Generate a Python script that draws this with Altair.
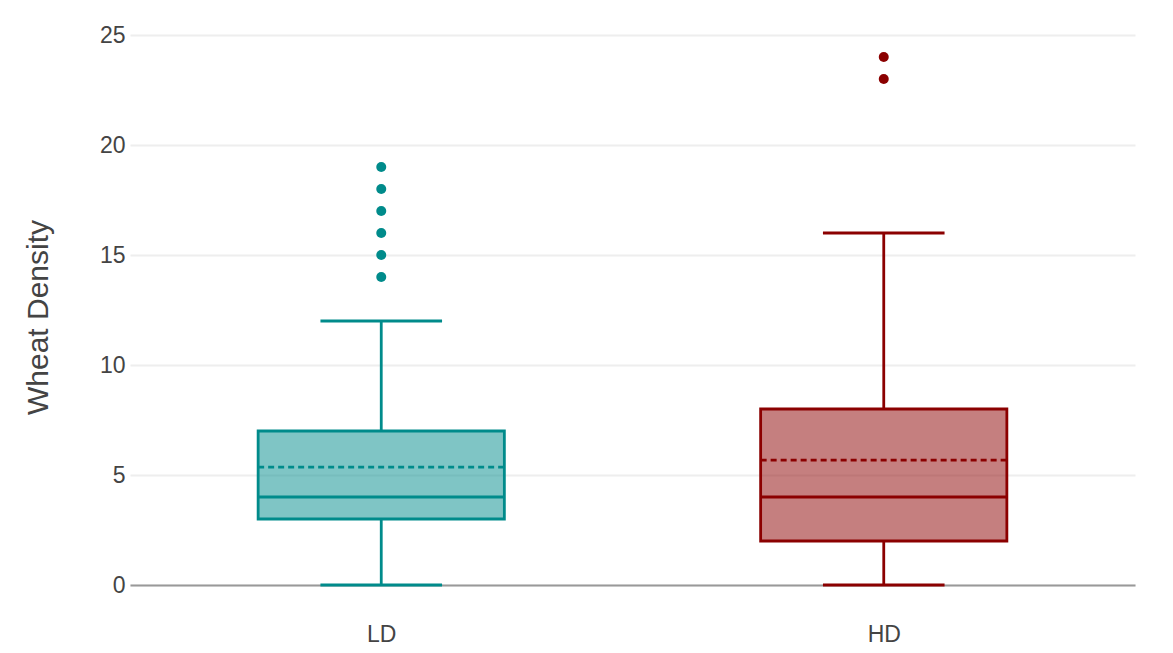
import altair as alt
import pandas as pd

# ---- data ----
categories = ["LD", "HD"]
lower_fence = [0, 0]
q1 = [3, 2]
median = [4, 4]
q3 = [7, 8]
upper_fence = [12, 16]
means = [5.36, 5.68]
outliers_LD = [14, 15, 16, 17, 18, 19]
outliers_HD = [23, 24]
colors = ["#008B8B", "#8B0000"]
y_ticks = [0, 5, 10, 15, 20, 25]

box_df = pd.DataFrame({
    "cat": categories,
    "idx": list(range(len(categories))),
    "lower": lower_fence,
    "q1": q1,
    "median": median,
    "q3": q3,
    "upper": upper_fence,
    "mean": means,
})
out_df = pd.DataFrame({
    "cat": ["LD"] * len(outliers_LD) + ["HD"] * len(outliers_HD),
    "idx": [0] * len(outliers_LD) + [1] * len(outliers_HD),
    "value": outliers_LD + outliers_HD,
})

BOX_HALF = 0.245
CAP_HALF = 0.121
LW = 2.8
FONT = "Liberation Sans"
TXT = "#444444"

color_scale = alt.Scale(domain=categories, range=colors)
x_scale = alt.Scale(domain=[-0.5, len(categories) - 0.5], nice=False, zero=False)
y_scale = alt.Scale(domain=[0, 25], nice=False, zero=False)

x_axis = alt.Axis(
    values=list(range(len(categories))),
    labelExpr=f"{categories}[datum.value]",
    title=None, grid=False, ticks=False,
    domain=True, domainColor="#999999", domainWidth=2,
    labelFont=FONT, labelFontSize=23, labelColor=TXT,
    labelBaseline="top", labelPadding=38,
)
y_axis = alt.Axis(
    values=y_ticks, title="Wheat Density",
    grid=True, gridColor="#eeeeee", gridWidth=2,
    ticks=False, domain=False,
    labelFont=FONT, labelFontSize=23, labelColor=TXT, labelPadding=5,
    titleFont=FONT, titleFontSize=30, titleColor=TXT, titleFontWeight="normal",
    titleAngle=270, titleAlign="center", titleBaseline="middle",
    titleX=-92, titleY=282,
)

def xq(field):
    return alt.X(f"{field}:Q", scale=x_scale, axis=x_axis)

def yq(field):
    return alt.Y(f"{field}:Q", scale=y_scale, axis=y_axis)

stroke_enc = alt.Stroke("cat:N", scale=color_scale, legend=None)
color_enc = alt.Color("cat:N", scale=color_scale, legend=None)

base = alt.Chart(box_df).transform_calculate(
    box_l=f"datum.idx - {BOX_HALF}",
    box_r=f"datum.idx + {BOX_HALF}",
    cap_l=f"datum.idx - {CAP_HALF}",
    cap_r=f"datum.idx + {CAP_HALF}",
)

box = base.mark_rect(fillOpacity=0.5, strokeWidth=LW).encode(
    x=xq("box_l"), x2="box_r:Q", y=yq("q1"), y2="q3:Q",
    fill=alt.Fill("cat:N", scale=color_scale, legend=None),
    stroke=stroke_enc,
)
whisk_up = base.mark_rule(strokeWidth=LW).encode(
    x=xq("idx"), y=yq("q3"), y2="upper:Q", color=color_enc)
whisk_lo = base.mark_rule(strokeWidth=LW).encode(
    x=xq("idx"), y=yq("lower"), y2="q1:Q", color=color_enc)
cap_up = base.mark_rule(strokeWidth=LW).encode(
    x=xq("cap_l"), x2="cap_r:Q", y=yq("upper"), color=color_enc)
cap_lo = base.mark_rule(strokeWidth=LW).encode(
    x=xq("cap_l"), x2="cap_r:Q", y=yq("lower"), color=color_enc)
med = base.mark_rule(strokeWidth=LW).encode(
    x=xq("box_l"), x2="box_r:Q", y=yq("median"), color=color_enc)
mean = base.mark_rule(strokeWidth=LW, strokeDash=[6, 4]).encode(
    x=xq("box_l"), x2="box_r:Q", y=yq("mean"), color=color_enc)
outs = alt.Chart(out_df).mark_circle(size=100, opacity=1).encode(
    x=xq("idx"), y=yq("value"), color=color_enc)

chart = alt.layer(box, whisk_up, whisk_lo, cap_up, cap_lo, med, mean, outs).properties(
    width=1005, height=550,
    autosize=alt.AutoSizeParams(type="none"),
    padding={"left": 122, "top": 27, "right": 30, "bottom": 75},
).configure(background="white").configure_view(stroke=None)

chart.save("out.html", embed_options={"renderer": "svg", "actions": False})
